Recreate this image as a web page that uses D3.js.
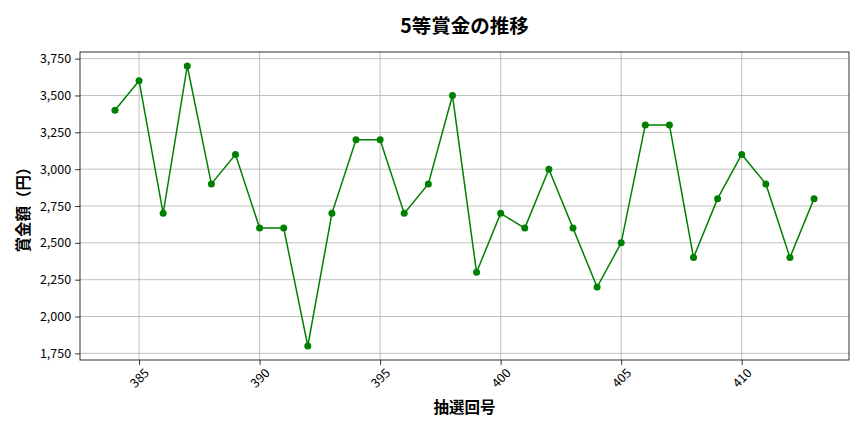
<!DOCTYPE html>
<html><head><meta charset="utf-8">
<script src="https://cdn.jsdelivr.net/npm/d3@7"></script>
<style>body{margin:0;background:#fff}svg{display:block}text{font-family:"Noto Sans CJK JP","Noto Sans",sans-serif}</style>
</head><body><svg id="c" width="864" height="432"></svg>
<script>
const draws = [384,385,386,387,388,389,390,391,392,393,394,395,396,397,398,399,400,401,402,403,404,405,406,407,408,409,410,411,412,413];
const prizes = [3400,3600,2700,3700,2900,3100,2600,2600,1800,2700,3200,3200,2700,2900,3500,2300,2700,2600,3000,2600,2200,2500,3300,3300,2400,2800,3100,2900,2400,2800];
const xTicks = [385,390,395,400,405,410];
const yTicks = [1750,2000,2250,2500,2750,3000,3250,3500,3750];
const title = "5等賞金の推移", xLabel = "抽選回号", yLabel = "賞金額（円）";

const svg = d3.select("#c");
const L=80,R=849,T=52,B=360;
const xmin=d3.min(draws),xmax=d3.max(draws),ymin=d3.min(prizes),ymax=d3.max(prizes);
const xm=(xmax-xmin)*0.05, ym=(ymax-ymin)*0.05;
const x=d3.scaleLinear().domain([xmin-xm,xmax+xm]).range([L,R]);
const y=d3.scaleLinear().domain([ymin-ym,ymax+ym]).range([B,T]);
const g=svg.append("g");
// grid
g.selectAll(".gx").data(xTicks).join("line").attr("x1",d=>x(d)).attr("x2",d=>x(d)).attr("y1",T).attr("y2",B).attr("stroke","#b0b0b0").attr("stroke-width",0.8);
g.selectAll(".gy").data(yTicks).join("line").attr("y1",d=>y(d)).attr("y2",d=>y(d)).attr("x1",L).attr("x2",R).attr("stroke","#b0b0b0").attr("stroke-width",0.8);
// axes
const xa=svg.append("g").attr("transform",`translate(0,${B})`).call(d3.axisBottom(x).tickValues(xTicks).tickSize(4.9).tickPadding(3).tickFormat(d3.format("d")));
xa.select(".domain").remove();
xa.selectAll("text").attr("font-size",12.5).attr("fill","#000").attr("text-anchor","middle").attr("x",0).attr("y",0).attr("dy","0.35em").attr("transform","translate(0,18) rotate(-45)");
const ya=svg.append("g").attr("transform",`translate(${L},0)`).call(d3.axisLeft(y).tickValues(yTicks).tickSize(4.9).tickPadding(4).tickFormat(d3.format(",")));
ya.select(".domain").remove();
ya.selectAll("text").attr("font-size",12.5).attr("fill","#000");
svg.selectAll(".tick line").attr("stroke","#000").attr("stroke-width",0.8);
// line
svg.append("path").datum(draws.map((d,i)=>[d,prizes[i]])).attr("fill","none").attr("stroke","#008000").attr("stroke-width",1.5)
 .attr("d",d3.line().x(d=>x(d[0])).y(d=>y(d[1])));
svg.selectAll(".pt").data(draws.map((d,i)=>[d,prizes[i]])).join("circle").attr("cx",d=>x(d[0])).attr("cy",d=>y(d[1])).attr("r",3.5).attr("fill","#008000");
// frame
svg.append("rect").attr("x",L).attr("y",T).attr("width",R-L).attr("height",B-T).attr("fill","none").attr("stroke","#000").attr("stroke-width",0.8);
// labels
svg.append("text").attr("x",(L+R)/2).attr("y",33).attr("text-anchor","middle").attr("font-size",19.5).attr("font-weight","bold").text(title);
svg.append("text").attr("x",(L+R)/2).attr("y",413).attr("text-anchor","middle").attr("font-size",15.5).attr("font-weight","bold").text(xLabel);
svg.append("text").attr("transform",`translate(29,${(T+B)/2}) rotate(-90)`).attr("text-anchor","middle").attr("font-size",15.5).attr("font-weight","bold").text(yLabel);
</script></body></html>
